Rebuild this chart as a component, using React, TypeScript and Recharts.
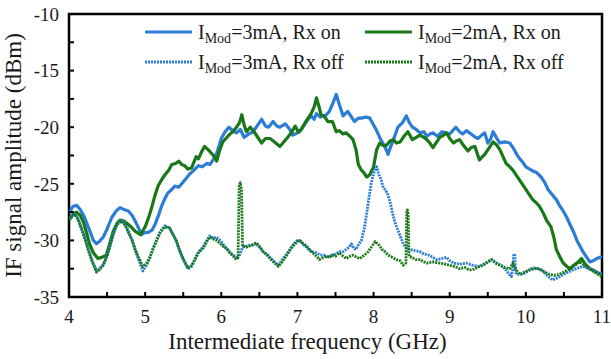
import React from 'react';
import { LineChart, Line, XAxis, YAxis, ReferenceArea, Label } from 'recharts';

// [frequency GHz, amplitude dBm]
const blueOn: [number, number][] = [
  [4.0, -27.6], [4.05, -27.0], [4.1, -26.9], [4.15, -27.3], [4.2, -27.9], [4.27, -29.1], [4.32, -30.0], [4.36, -30.3],
  [4.4, -30.1], [4.45, -29.7], [4.5, -29.0], [4.56, -28.0], [4.62, -27.4], [4.67, -27.1], [4.73, -27.3], [4.78, -27.4],
  [4.83, -27.8], [4.87, -28.3], [4.92, -29.0], [4.95, -29.5], [5.0, -29.3], [5.04, -29.3], [5.09, -29.1], [5.13, -28.6],
  [5.18, -27.7], [5.22, -26.9], [5.26, -26.3], [5.3, -25.8], [5.35, -25.5], [5.39, -25.2], [5.44, -25.3], [5.48, -25.0],
  [5.53, -24.6], [5.59, -24.1], [5.64, -23.8], [5.7, -23.4], [5.75, -23.5], [5.81, -23.2], [5.85, -23.3], [5.89, -22.9],
  [5.94, -22.3], [6.0, -21.0], [6.05, -20.4], [6.1, -20.0], [6.15, -20.3], [6.2, -20.5], [6.25, -20.2], [6.3, -20.9],
  [6.36, -20.6], [6.42, -20.4], [6.48, -19.8], [6.53, -19.3], [6.58, -19.9], [6.62, -20.0], [6.68, -19.5], [6.73, -19.9],
  [6.77, -20.0], [6.84, -19.7], [6.9, -20.2], [6.94, -20.7], [7.0, -20.5], [7.03, -20.4], [7.08, -19.9], [7.14, -19.3],
  [7.18, -19.0], [7.22, -19.3], [7.25, -18.8], [7.3, -19.1], [7.33, -19.0], [7.38, -18.9], [7.42, -18.6], [7.47, -17.8],
  [7.51, -17.1], [7.55, -18.0], [7.6, -19.0], [7.66, -18.6], [7.7, -19.0], [7.75, -19.5], [7.8, -19.2], [7.84, -19.2],
  [7.9, -19.1], [7.95, -19.2], [8.0, -19.8], [8.04, -20.3], [8.08, -20.9], [8.12, -21.4], [8.16, -21.9], [8.19, -22.4],
  [8.22, -21.8], [8.26, -21.1], [8.32, -20.0], [8.38, -19.6], [8.43, -19.0], [8.47, -19.6], [8.51, -20.0], [8.56, -20.2],
  [8.61, -20.5], [8.66, -20.4], [8.7, -20.8], [8.74, -20.6], [8.78, -20.5], [8.84, -20.8], [8.9, -20.4], [8.95, -20.5],
  [9.0, -20.6], [9.04, -20.3], [9.08, -20.0], [9.13, -20.4], [9.17, -20.6], [9.22, -20.3], [9.26, -20.5], [9.32, -20.8],
  [9.37, -21.0], [9.42, -20.7], [9.46, -20.5], [9.5, -21.4], [9.54, -21.0], [9.57, -20.4], [9.62, -21.0], [9.66, -21.4],
  [9.72, -21.3], [9.79, -21.4], [9.84, -21.9], [9.88, -22.4], [9.92, -22.8], [9.96, -23.1], [10.0, -23.5], [10.05, -23.7],
  [10.1, -23.9], [10.14, -24.0], [10.2, -24.4], [10.25, -24.9], [10.29, -25.5], [10.35, -26.0], [10.4, -26.4], [10.45, -27.0],
  [10.49, -27.4], [10.54, -28.0], [10.58, -28.6], [10.63, -29.3], [10.67, -30.0], [10.71, -30.5], [10.75, -31.0], [10.8, -31.5],
  [10.84, -31.9], [10.88, -31.8], [10.93, -31.6], [10.97, -31.5], [11.0, -31.4],
];

const greenOn: [number, number][] = [
  [4.0, -28.2], [4.05, -27.7], [4.1, -27.5], [4.15, -27.8], [4.19, -28.4], [4.23, -29.3], [4.27, -30.3], [4.32, -31.1],
  [4.38, -31.6], [4.43, -31.5], [4.49, -31.3], [4.53, -30.4], [4.58, -29.2], [4.63, -28.5], [4.67, -28.2], [4.72, -28.3],
  [4.78, -28.6], [4.83, -28.9], [4.87, -29.2], [4.94, -29.5], [5.0, -28.8], [5.05, -27.9], [5.09, -27.0], [5.13, -26.0],
  [5.17, -25.2], [5.22, -24.6], [5.26, -24.2], [5.31, -23.8], [5.35, -23.3], [5.4, -23.2], [5.44, -23.0], [5.48, -23.3],
  [5.52, -23.4], [5.56, -23.7], [5.61, -23.6], [5.67, -22.6], [5.7, -22.8], [5.74, -22.2], [5.78, -21.7], [5.83, -22.0],
  [5.87, -22.3], [5.91, -22.6], [5.94, -23.0], [5.98, -22.0], [6.02, -21.3], [6.06, -21.0], [6.1, -20.7], [6.15, -20.4],
  [6.2, -20.0], [6.24, -19.6], [6.27, -18.9], [6.3, -19.8], [6.33, -20.4], [6.38, -20.0], [6.42, -20.3], [6.47, -20.8],
  [6.53, -21.4], [6.58, -21.0], [6.64, -21.0], [6.7, -21.3], [6.77, -21.7], [6.82, -21.3], [6.86, -21.0], [6.92, -20.5],
  [6.97, -19.9], [7.01, -20.4], [7.05, -20.2], [7.1, -19.6], [7.14, -19.2], [7.18, -18.8], [7.22, -18.2], [7.25, -17.4],
  [7.28, -18.1], [7.31, -18.9], [7.36, -19.1], [7.4, -19.5], [7.46, -19.5], [7.51, -20.4], [7.55, -20.3], [7.6, -20.6],
  [7.64, -20.5], [7.69, -20.8], [7.73, -21.1], [7.77, -22.0], [7.8, -23.3], [7.84, -23.8], [7.87, -24.0], [7.91, -24.4],
  [7.95, -24.2], [8.0, -23.5], [8.04, -22.0], [8.08, -21.4], [8.12, -21.6], [8.17, -21.6], [8.22, -21.2], [8.26, -21.1],
  [8.3, -21.4], [8.35, -21.3], [8.4, -20.8], [8.45, -20.4], [8.51, -21.1], [8.56, -20.9], [8.61, -20.7], [8.66, -20.9],
  [8.7, -21.1], [8.74, -21.4], [8.78, -21.8], [8.83, -21.3], [8.87, -20.9], [8.92, -20.7], [8.96, -20.5], [9.0, -21.0],
  [9.05, -21.4], [9.09, -21.2], [9.13, -21.1], [9.18, -21.6], [9.24, -22.1], [9.28, -21.8], [9.33, -21.7], [9.39, -22.9],
  [9.43, -22.6], [9.46, -22.4], [9.52, -21.8], [9.57, -21.3], [9.62, -21.6], [9.66, -22.0], [9.7, -22.6], [9.74, -23.2],
  [9.79, -23.5], [9.83, -23.8], [9.88, -24.3], [9.92, -24.7], [9.96, -25.1], [10.0, -25.5], [10.05, -26.0], [10.09, -26.4],
  [10.14, -26.7], [10.18, -27.0], [10.23, -27.6], [10.27, -28.2], [10.33, -28.8], [10.37, -29.8], [10.4, -30.8], [10.45, -31.5],
  [10.49, -32.0], [10.54, -32.3], [10.58, -32.5], [10.63, -32.2], [10.67, -32.0], [10.73, -31.6], [10.78, -32.1], [10.84, -32.5],
  [10.9, -32.7], [10.95, -32.9], [11.0, -33.0],
];

const blueOff: [number, number][] = [
  [4.0, -28.1], [4.04, -27.8], [4.08, -27.6], [4.12, -28.1], [4.17, -29.0], [4.21, -29.8], [4.25, -30.7], [4.3, -31.7],
  [4.36, -32.7], [4.4, -32.5], [4.45, -32.1], [4.5, -31.3], [4.54, -30.4], [4.58, -29.4], [4.63, -28.5], [4.69, -28.2],
  [4.74, -28.6], [4.78, -29.2], [4.83, -30.0], [4.87, -30.9], [4.92, -31.8], [4.97, -32.7], [5.02, -32.2], [5.06, -31.6],
  [5.1, -30.8], [5.15, -30.0], [5.2, -29.2], [5.26, -28.7], [5.32, -28.9], [5.36, -29.4], [5.41, -30.1], [5.45, -30.9],
  [5.5, -31.7], [5.56, -32.5], [5.6, -32.4], [5.63, -32.0], [5.7, -31.0], [5.76, -30.6], [5.81, -30.0], [5.85, -29.6],
  [5.9, -29.8], [5.94, -29.7], [6.0, -30.1], [6.05, -30.6], [6.11, -31.0], [6.16, -31.3], [6.2, -31.6], [6.24, -31.3],
  [6.28, -30.6], [6.33, -30.5], [6.41, -30.4], [6.46, -30.3], [6.5, -30.6], [6.55, -31.0], [6.6, -31.2], [6.64, -31.5],
  [6.7, -31.9], [6.75, -32.2], [6.8, -31.7], [6.86, -31.2], [6.9, -30.8], [6.94, -30.4], [7.0, -30.0], [7.03, -30.0],
  [7.08, -30.4], [7.12, -30.6], [7.16, -30.9], [7.2, -31.0], [7.25, -31.1], [7.3, -31.3], [7.35, -31.3], [7.4, -31.5],
  [7.45, -31.3], [7.5, -31.2], [7.55, -31.0], [7.6, -31.0], [7.64, -30.8], [7.68, -30.6], [7.71, -30.3], [7.74, -30.7],
  [7.77, -30.8], [7.8, -30.4], [7.84, -30.0], [7.88, -28.9], [7.91, -27.6], [7.94, -26.2], [7.97, -24.9], [8.01, -23.9],
  [8.04, -23.5], [8.07, -24.2], [8.1, -24.6], [8.12, -25.2], [8.16, -25.6], [8.19, -26.0], [8.22, -26.7], [8.25, -27.6],
  [8.28, -28.4], [8.32, -29.1], [8.36, -29.8], [8.39, -30.3], [8.43, -30.7], [8.48, -30.8], [8.54, -30.9], [8.61, -31.0],
  [8.66, -31.2], [8.72, -31.3], [8.78, -31.5], [8.83, -31.7], [8.9, -31.6], [8.96, -31.5], [9.0, -31.8], [9.05, -32.0],
  [9.13, -32.1], [9.22, -32.0], [9.3, -32.2], [9.39, -32.3], [9.47, -32.0], [9.55, -31.7], [9.62, -32.0], [9.7, -32.3],
  [9.76, -32.8], [9.81, -33.2], [9.83, -32.5], [9.84, -31.2], [9.855, -31.3], [9.865, -32.8], [9.88, -33.0], [9.96, -33.0],
  [10.03, -32.7], [10.09, -32.4], [10.15, -32.5], [10.22, -32.7], [10.28, -33.1], [10.35, -33.5], [10.42, -33.3], [10.49, -33.0],
  [10.56, -32.8], [10.62, -32.6], [10.7, -32.4], [10.75, -32.3], [10.82, -32.5], [10.88, -32.6], [10.94, -32.8], [11.0, -33.0],
];

const greenOff: [number, number][] = [
  [4.0, -28.2], [4.04, -27.9], [4.08, -27.7], [4.12, -28.2], [4.17, -29.1], [4.21, -29.9], [4.25, -30.8], [4.3, -31.8],
  [4.36, -32.8], [4.4, -32.6], [4.45, -32.2], [4.5, -31.4], [4.54, -30.5], [4.58, -29.5], [4.63, -28.6], [4.69, -28.3],
  [4.74, -28.7], [4.78, -29.3], [4.83, -30.0], [4.87, -30.8], [4.92, -31.6], [4.97, -32.3], [5.02, -32.0], [5.06, -31.5],
  [5.1, -30.8], [5.15, -30.0], [5.2, -29.3], [5.26, -28.8], [5.32, -28.9], [5.36, -29.4], [5.41, -30.0], [5.45, -30.8],
  [5.5, -31.6], [5.56, -32.4], [5.6, -32.3], [5.63, -32.0], [5.7, -31.1], [5.76, -30.7], [5.81, -30.1], [5.85, -29.7],
  [5.9, -29.9], [5.94, -30.0], [6.02, -30.5], [6.07, -30.7], [6.11, -31.1], [6.16, -31.4], [6.2, -31.7], [6.22, -31.5],
  [6.235, -25.2], [6.25, -24.9], [6.265, -25.5], [6.28, -30.5], [6.33, -30.6], [6.41, -30.4], [6.46, -30.2], [6.5, -30.5],
  [6.55, -31.0], [6.6, -31.3], [6.64, -31.6], [6.7, -32.0], [6.75, -32.3], [6.8, -31.9], [6.86, -31.3], [6.9, -30.9],
  [6.94, -30.5], [7.0, -30.1], [7.03, -30.0], [7.08, -30.3], [7.12, -30.5], [7.16, -30.8], [7.2, -31.1], [7.25, -31.4],
  [7.29, -31.7], [7.34, -31.5], [7.38, -31.4], [7.42, -31.5], [7.46, -31.3], [7.5, -31.4], [7.55, -31.1], [7.6, -31.4],
  [7.64, -31.6], [7.69, -31.4], [7.73, -31.3], [7.78, -31.5], [7.82, -31.6], [7.88, -31.3], [7.93, -31.0], [7.98, -30.5],
  [8.02, -30.1], [8.07, -30.4], [8.11, -30.8], [8.15, -31.0], [8.19, -31.3], [8.25, -31.5], [8.3, -31.7], [8.35, -31.8],
  [8.39, -32.2], [8.425, -32.0], [8.435, -27.6], [8.445, -27.3], [8.455, -27.8], [8.465, -31.4], [8.5, -31.5], [8.56, -31.7],
  [8.61, -31.7], [8.66, -31.9], [8.7, -32.0], [8.78, -31.9], [8.87, -32.0], [8.94, -32.1], [9.0, -32.2], [9.06, -32.3],
  [9.13, -32.5], [9.2, -32.4], [9.25, -32.6], [9.3, -32.6], [9.36, -32.4], [9.44, -32.2], [9.5, -31.9], [9.55, -31.7],
  [9.6, -32.0], [9.66, -32.2], [9.72, -32.4], [9.79, -32.5], [9.83, -32.0], [9.87, -32.6], [9.92, -33.0], [9.98, -32.8],
  [10.05, -32.6], [10.12, -32.5], [10.18, -32.5], [10.25, -32.8], [10.31, -33.0], [10.37, -33.1], [10.44, -33.0], [10.5, -32.8],
  [10.58, -32.5], [10.64, -32.2], [10.71, -31.9], [10.77, -32.2], [10.84, -32.5], [10.9, -32.8], [10.97, -33.1], [11.0, -33.2],
];

const xTicks = [4, 4.5, 5, 5.5, 6, 6.5, 7, 7.5, 8, 8.5, 9, 9.5, 10, 10.5, 11];
const yTicks = [-35, -32.5, -30, -27.5, -25, -22.5, -20, -17.5, -15, -12.5, -10];

const series = [
  { name: '3mA, Rx on', pts: blueOn, color: '#2a7cd6', dash: undefined, row: 0, col: 0 },
  { name: '2mA, Rx on', pts: greenOn, color: '#187818', dash: undefined, row: 0, col: 1 },
  { name: '3mA, Rx off', pts: blueOff, color: '#2a7cd6', dash: '2 1', row: 1, col: 0 },
  { name: '2mA, Rx off', pts: greenOff, color: '#187818', dash: '2 1', row: 1, col: 1 },
];

const FONT = '"Liberation Serif", "Times New Roman", serif';
const toPoints = (pairs: [number, number][]) => pairs.map(([f, v]) => ({ f, v }));
const labelIfWhole = (v: number) => (Number.isInteger(v) ? String(v) : '');

const LegendOverlay = () => (
  <svg width={611} height={359} style={{ position: 'absolute', left: 0, top: 0, pointerEvents: 'none' }}>
    {series.map((s) => {
      const x0 = s.col === 0 ? 145 : 365;
      const y = s.row === 0 ? 32 : 62;
      return (
        <g key={s.name}>
          <line x1={x0} x2={x0 + 47} y1={y} y2={y} stroke={s.color} strokeWidth={3} strokeDasharray={s.dash} />
          <text x={x0 + 53} y={y + 7} fontSize={20} fontFamily={FONT} fill="#1a1a1a">
            <tspan>I</tspan>
            <tspan fontSize={14} dy={4}>Mod</tspan>
            <tspan dy={-4}>={s.name}</tspan>
          </text>
        </g>
      );
    })}
  </svg>
);

export default function App() {
  return (
    <div style={{ position: 'absolute', left: 0, top: 0, width: 611, height: 359, background: '#fff', fontFamily: FONT }}>
      <LineChart width={611} height={359} margin={{ top: 14, right: 9, left: 0, bottom: 0 }}>
        <XAxis
          type="number"
          dataKey="f"
          domain={[4, 11]}
          ticks={xTicks}
          tickFormatter={labelIfWhole}
          allowDataOverflow
          height={62}
          axisLine={false}
          tickSize={-5}
          tickMargin={18}
          tickLine={{ stroke: '#000', strokeWidth: 2 }}
          tick={{ fill: '#1a1a1a', fontSize: 19, fontFamily: FONT }}
        >
          <Label
            value="Intermediate frequency (GHz)"
            position="insideBottom"
            offset={10}
            dx={-28}
            style={{ fill: '#1a1a1a', fontSize: 23, fontFamily: FONT }}
          />
        </XAxis>
        <YAxis
          type="number"
          dataKey="v"
          domain={[-35, -10]}
          ticks={yTicks}
          tickFormatter={labelIfWhole}
          allowDataOverflow
          width={69}
          axisLine={false}
          tickSize={-5}
          tickMargin={15}
          tickLine={{ stroke: '#000', strokeWidth: 2 }}
          tick={{ fill: '#1a1a1a', fontSize: 19, fontFamily: FONT }}
        >
          <Label
            value="IF signal amplitude (dBm)"
            angle={-90}
            position="insideLeft"
            offset={13}
            style={{ fill: '#1a1a1a', fontSize: 23, fontFamily: FONT, textAnchor: 'middle' }}
          />
        </YAxis>
        {series.map((s) => (
          <Line
            key={s.name}
            data={toPoints(s.pts)}
            dataKey="v"
            type="linear"
            stroke={s.color}
            strokeWidth={s.dash ? 2.8 : 3.2}
            strokeDasharray={s.dash}
            strokeLinejoin="round"
            dot={false}
            activeDot={false}
            isAnimationActive={false}
          />
        ))}
        <ReferenceArea x1={4} x2={11} y1={-35} y2={-10} fill="none" fillOpacity={0} stroke="#000" strokeWidth={2.5} />
      </LineChart>
      <LegendOverlay />
    </div>
  );
}
